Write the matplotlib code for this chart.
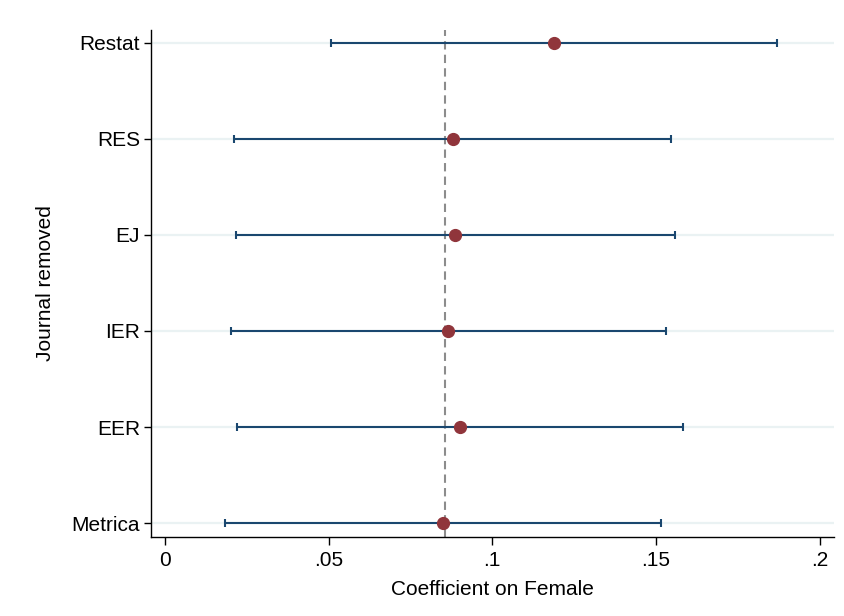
import matplotlib
matplotlib.use("Agg")
import matplotlib.pyplot as plt

plt.rcParams['font.family'] = ['Liberation Sans', 'DejaVu Sans']

# journals (top to bottom as drawn)
journals = ["Restat", "RES", "EJ", "IER", "EER", "Metrica"]
coef = [0.1188, 0.0880, 0.0886, 0.0866, 0.0901, 0.0849]
ci_lo = [0.0507, 0.0212, 0.0218, 0.0202, 0.0221, 0.0183]
ci_hi = [0.1870, 0.1545, 0.1558, 0.1530, 0.1582, 0.1515]
baseline = 0.0856

xticks = [0, 0.05, 0.1, 0.15, 0.2]
xticklabels = ["0", ".05", ".1", ".15", ".2"]

navy = "#1a476f"
maroon = "#90353b"

fig = plt.figure(figsize=(8.44, 6.16), dpi=100)
ax = fig.add_axes([0.1789, 0.1282, 0.8091, 0.8231])

ypos = list(range(len(journals), 0, -1))

for y in ypos:
    ax.axhline(y, color="#eaf2f3", lw=1.6, zorder=0)

ax.axvline(baseline, color="#8c8c8c", lw=1.5, ls=(0, (4, 2.5)), zorder=1)

err = [[c - l for c, l in zip(coef, ci_lo)], [h - c for c, h in zip(coef, ci_hi)]]
ax.errorbar(coef, ypos, xerr=err, fmt="none", ecolor=navy, elinewidth=1.5,
            capsize=3.2, capthick=1.5, zorder=2)
ax.plot(coef, ypos, "o", color=maroon, markersize=8.5, zorder=3)

ax.set_xlim(-0.0042, 0.2043)
ax.set_ylim(0.854, 6.135)
ax.set_yticks(ypos)
ax.set_yticklabels(journals, fontsize=15)
ax.set_xticks(xticks)
ax.set_xticklabels(xticklabels, fontsize=15)
ax.tick_params(axis="y", length=5, width=1, pad=3)
ax.tick_params(axis="x", length=6, width=1, pad=4)

ax.spines["top"].set_visible(False)
ax.spines["right"].set_visible(False)
ax.spines["left"].set_linewidth(1)
ax.spines["bottom"].set_linewidth(1)

ax.set_xlabel("Coefficient on Female", fontsize=15, labelpad=7)
ax.set_ylabel("Journal removed", fontsize=15, labelpad=12)

fig.savefig("out.png", dpi=100, facecolor="white")
